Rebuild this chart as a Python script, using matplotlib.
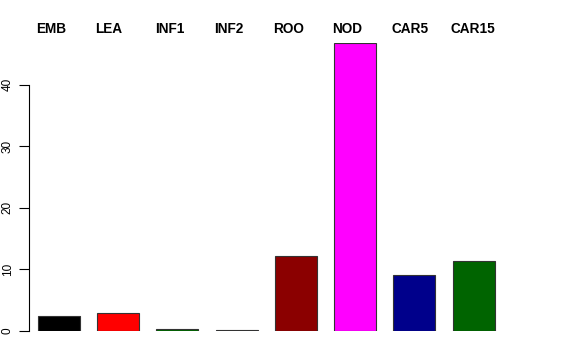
import matplotlib
matplotlib.use("Agg")
import matplotlib.pyplot as plt
import matplotlib.transforms as mtransforms
import numpy as np

plt.rcParams['font.family'] = ['Liberation Sans', 'DejaVu Sans']

labels = ['EMB', 'LEA', 'INF1', 'INF2', 'ROO', 'NOD', 'CAR5', 'CAR15']
values = [2.4, 2.9, 0.3, 0.2, 12.2, 46.8, 9.1, 11.4]
colors = ['#000000', '#ff0000', '#006400', '#00008b', '#8b0000', '#ff00ff', '#00008b', '#006400']

fig = plt.figure(figsize=(5.76, 3.6), dpi=100)
ax = fig.add_axes([29 / 576, 29 / 360, 531 / 576, 288 / 360])

x = np.arange(len(labels))
width = 0.71
ax.bar(x, values, width=width, color=colors, edgecolor='#333333', linewidth=0.8)

ax.set_xlim(-0.507, 8.46)
ax.set_ylim(0, 46.8)

for s in ['top', 'right', 'bottom']:
    ax.spines[s].set_visible(False)
ax.spines['left'].set_bounds(0, 40)
ax.spines['left'].set_linewidth(0.8)
ax.set_xticks([])
ax.set_yticks([0, 10, 20, 30, 40])
ax.tick_params(axis='y', length=7, width=0.8, labelsize=8.5, pad=4)
for t in ax.get_yticklabels():
    t.set_rotation(90)
    t.set_va('center')

# category names sit along the top, left-aligned with each bar
trans = mtransforms.blended_transform_factory(ax.transData, fig.transFigure)
for xi, lab in zip(x, labels):
    ax.text(xi - width / 2 - 0.03, 1 - 29 / 360, lab, transform=trans,
            ha='left', va='center', fontsize=9.8, fontweight='bold')

fig.savefig('out.png', dpi=100)
